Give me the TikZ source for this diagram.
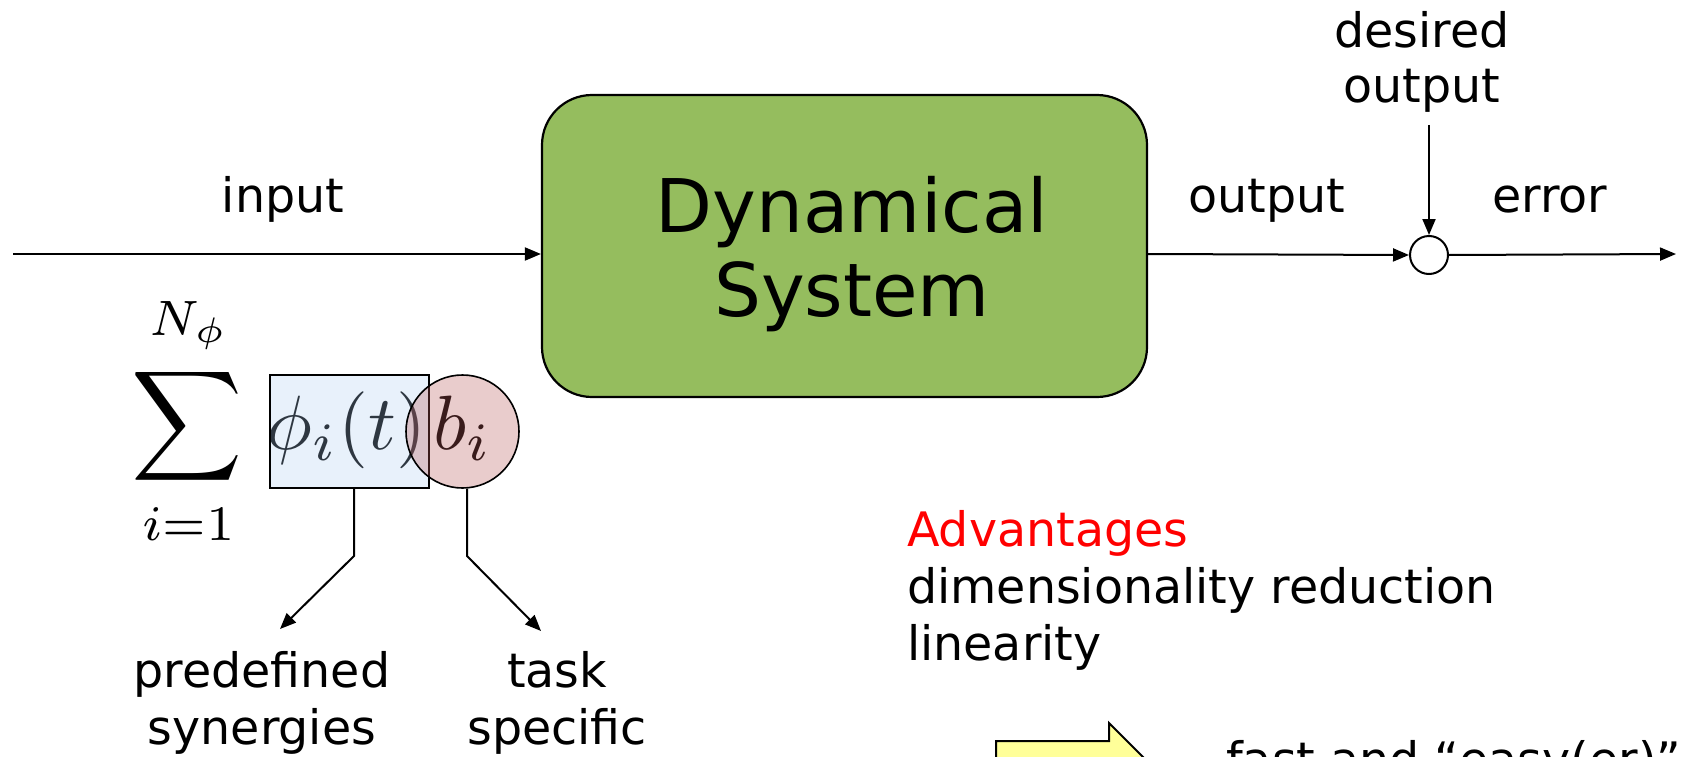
\documentclass[tikz,border=0pt]{standalone}
\usepackage[no-math]{fontspec}
\newfontfamily\dejavu{DejaVu Sans}
\usetikzlibrary{arrows.meta}
\definecolor{boxgreen}{HTML}{95BD5E}
\definecolor{phiblue}{HTML}{AACCF1}
\definecolor{bpink}{HTML}{B95959}
\definecolor{arrowyellow}{HTML}{FFFF99}
\definecolor{advred}{HTML}{FF0000}

\begin{document}
\begin{tikzpicture}[x=1pt,y=-1pt,
  lbl/.style={font=\dejavu\fontsize{47.5}{55}\selectfont, inner sep=0pt},
  big/.style={font=\dejavu\fontsize{74}{84}\selectfont, inner sep=0pt},
  wire/.style={line width=2pt, -{Triangle[length=16pt,width=13pt]}},
  mathlbl/.style={scale=7.1, inner sep=0pt}
]
\useasboundingbox (0,0) rectangle (1686,757);
\clip (0,0) rectangle (1686,757);

% the dynamical system block
\node[draw, line width=2.2pt, fill=boxgreen, rounded corners=50pt,
      minimum width=605pt, minimum height=302pt, inner sep=0pt] (sys) at (844.5,246) {};
\node[big, align=center] (systxt) at (852,254) {Dynamical\\System};

% signal chain
\coordinate (src) at (13,254);
\node[draw, circle, line width=2pt, minimum size=38pt, inner sep=0pt] (sj) at (1429,255) {};
\coordinate (etip) at (1676,254);
\coordinate (dtop) at (1429,125);

\draw[wire] (src) -- (src -| sys.west);
\draw[wire] (sys.east |- src) -- (sj.west);
\draw[wire] (sj.east) -- (etip);
\draw[wire] (dtop) -- (sj.north);

\node[lbl, anchor=base] (inlbl) at (283,212) {input};
\node[lbl, anchor=base] (outlbl) at (1267,212) {output};
\node[lbl, anchor=base] (errlbl) at (1550,212) {error};
\node[lbl, align=center] (deslbl) at (1422,61.5) {desired\\output};

% synergy expansion: the terms lie under tinted, translucent marks
\node[mathlbl, scale=7.7/7.1, anchor=base] (sigma) at (187.5,445.5) {$\displaystyle\sum$};
\node[mathlbl, anchor=base] (upper) at (188.5,335) {$\scriptstyle N_\phi$};
\node[mathlbl, anchor=base] (lower) at (188.5,540) {$\scriptstyle i=1$};
\node[mathlbl, scale=7.7/7.1, anchor=base] (phiterm) at (346.5,449) {$\phi_i(t)$};
\node[mathlbl, scale=7.7/7.1, anchor=base] (bterm) at (462.5,449) {$b_i$};

\node[draw, line width=1.6pt, fill=phiblue, fill opacity=0.27, draw opacity=1,
      minimum width=159pt, minimum height=113pt, inner sep=0pt] (phibox) at (349.5,431.5) {};
\node[draw, circle, line width=1.6pt, fill=bpink, fill opacity=0.31, draw opacity=1,
      minimum size=113pt, inner sep=0pt] (bcirc) at (462.5,431.5) {};

\coordinate (pbend) at (354,556);
\coordinate (bbend) at (467,556);
\coordinate (ptip) at (280,629);
\coordinate (btip) at (541,631);
\draw[wire] (pbend |- phibox.south) -- (pbend) -- (ptip);
\draw[wire] (bbend |- bcirc.south) -- (bbend) -- (btip);

\node[lbl, align=center, font=\dejavu\fontsize{47.5}{57}\selectfont] (predef) at (262,703) {predefined\\synergies};
\node[lbl, align=center, font=\dejavu\fontsize{47.5}{57}\selectfont] (task) at (557,703) {task\\specific};

% advantages
\node[lbl, align=left, anchor=west, font=\dejavu\fontsize{47.5}{57}\selectfont] (adv) at (907,590)
  {\textcolor{advred}{Advantages}\\dimensionality reduction\\linearity};

% consequence arrow
\draw[line width=2pt, fill=arrowyellow]
  (996,741) -- (1109,741) -- (1109,723) -- (1145,759) -- (1109,795) -- (1109,777) -- (996,777) -- cycle;
\node[lbl, anchor=base west] (fast) at (1226,776) {fast and “easy(er)”};
\end{tikzpicture}
\end{document}
